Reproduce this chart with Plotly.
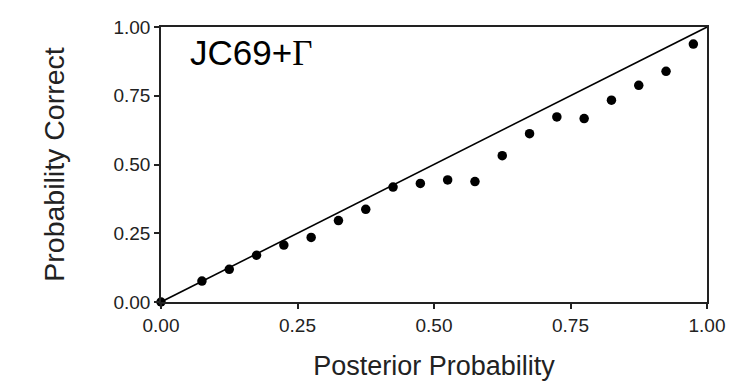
import plotly.graph_objects as go

posterior = [0.0, 0.075, 0.125, 0.175, 0.225, 0.275, 0.325, 0.375, 0.425, 0.475,
             0.525, 0.575, 0.625, 0.675, 0.725, 0.775, 0.825, 0.875, 0.925, 0.975]
correct = [0.0, 0.076, 0.119, 0.170, 0.207, 0.235, 0.296, 0.337, 0.418, 0.431,
           0.444, 0.438, 0.532, 0.612, 0.673, 0.667, 0.734, 0.788, 0.839, 0.938]
diag = [0.0, 1.0]
ticks = [0, 0.25, 0.5, 0.75, 1.0]
tick_text = ["0.00", "0.25", "0.50", "0.75", "1.00"]

fig = go.Figure()
fig.add_trace(go.Scatter(x=diag, y=diag, mode="lines",
                         line=dict(color="black", width=1.6), hoverinfo="skip"))
fig.add_trace(go.Scatter(x=posterior, y=correct, mode="markers",
                         marker=dict(color="black", size=9.5), cliponaxis=False))

axis_common = dict(range=[0, 1], tickvals=ticks, ticktext=tick_text,
                   showgrid=False, zeroline=False, showline=True,
                   linecolor="#222", linewidth=1.5, mirror=True,
                   ticks="outside", ticklen=5, tickwidth=1.5, tickcolor="#222",
                   tickfont=dict(family="Liberation Sans", size=19, color="#222"))

fig.update_xaxes(**axis_common,
                 title=dict(text="Posterior Probability",
                            font=dict(family="Liberation Sans", size=27, color="#222"),
                            standoff=22))
fig.update_yaxes(**axis_common,
                 title=dict(text="Probability Correct",
                            font=dict(family="Liberation Sans", size=28.5, color="#222"),
                            standoff=40))

fig.add_annotation(x=0.05, y=0.905, xref="x", yref="y", xanchor="left", yanchor="middle",
                   showarrow=False,
                   text='JC69+<span style="font-family:Liberation Serif">Γ</span>',
                   font=dict(family="Liberation Sans", size=35, color="black"))

fig.update_layout(width=750, height=387, showlegend=False,
                  plot_bgcolor="white", paper_bgcolor="white",
                  margin=dict(l=161, r=43, t=27, b=85))

fig.write_html("out.html")
